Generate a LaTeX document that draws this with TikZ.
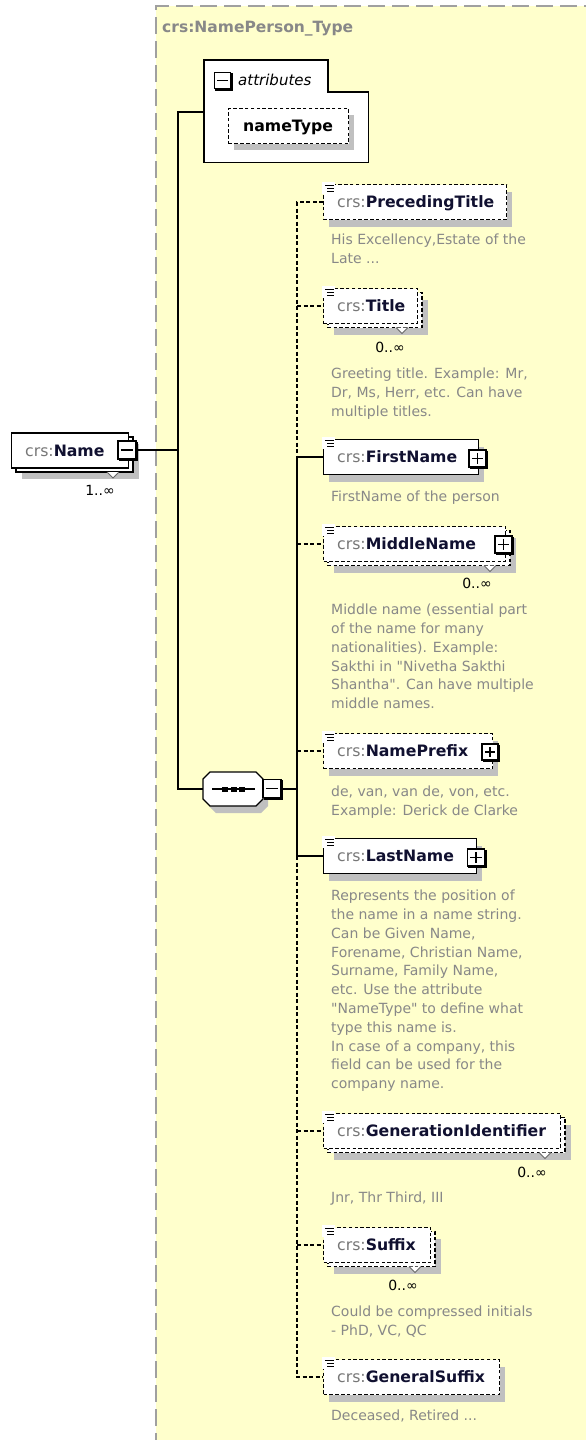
\documentclass[tikz,border=0pt]{standalone}
\usepackage{fontspec}
\setmainfont{DejaVu Sans}[Ligatures=TeXOff]
\usetikzlibrary{calc}
\definecolor{bgY}{HTML}{FFFFCC}
\definecolor{bordG}{HTML}{A0A0A0}
\definecolor{docG}{HTML}{888888}
\definecolor{preG}{HTML}{777777}
\definecolor{nameC}{HTML}{101030}
\definecolor{shadowG}{HTML}{C0C0C0}
\newcommand\crsname[1]{{\color{preG}crs:}{\bfseries\color{nameC}#1}}
% #1 node name, #2 left x, #3 centre y, #4 width, #5 line style, #6 stacked 0/1, #7 label
\newcommand\element[7]{%
  \ifnum#6=1
    \fill[shadowG] (#2+11,#3-17.5+11) rectangle ++(#4,35);
    \draw[elline,#5,fill=white] (#2+5,#3-17.5+4) rectangle ++(#4,35);
  \else
    \fill[shadowG] (#2+6,#3-17.5+7) rectangle ++(#4,35);
  \fi
  \node[elbox,#5,minimum width=#4pt,anchor=west] (#1) at (#2,#3) {};
  \node[eltext,anchor=west] (#1-t) at (#2+14,#3) {\crsname{#7}};
}
\newcommand\docicon[1]{%
  \fill[white] ($(#1.north west)+(-1.5,-1.5)$) rectangle ($(#1.north west)+(12,10)$);
  \draw[line width=1pt] ($(#1.north west)+(2,1.5)$) -- ++(9,0)
     ($(#1.north west)+(4,4.5)$) -- ++(7,0) ($(#1.north west)+(4,7.5)$) -- ++(7,0);
}
% #1 name, #2 cx, #3 cy, #4 size, #5 1 plus / 0 minus
\newcommand\pmbox[5]{%
  \node[pmsq,minimum size=#4pt] (#1) at (#2,#3) {};
  \draw[line width=1.8pt] ($(#1.north east)+(1,1.5)$) -- ($(#1.south east)+(1,1)$) -- ($(#1.south west)+(1.5,1)$);
  \draw[line width=1.3pt] ($(#1.west)+(3.5,0)$) -- ($(#1.east)+(-3.5,0)$);
  \ifnum#5=1 \draw[line width=1.3pt] ($(#1.north)+(0,3.5)$) -- ($(#1.south)+(0,-3.5)$);\fi
}
\newcommand\notch[2]{%
  \fill[white] (#1-6,#2) -- (#1,#2+6) -- (#1+6,#2) -- cycle;
  \draw[black!60,line width=0.8pt] (#1-6,#2) -- (#1,#2+6) -- (#1+6,#2);
}
\begin{document}
\begin{tikzpicture}[x=1pt,y=-1pt,
  elline/.style={draw=black,line width=1.3pt},
  opt/.style={dash pattern=on 3.5pt off 2.3pt},
  req/.style={},
  elbox/.style={elline,fill=white,inner sep=0pt,minimum height=35pt},
  eltext/.style={inner sep=0pt,font=\fontsize{15.7}{18}\selectfont,text height=13.5pt,text depth=2.5pt},
  doctext/.style={inner sep=0pt,align=left,text=docG,font=\fontsize{14}{18.8}\selectfont,anchor=north west},
  multtext/.style={inner sep=0pt,font=\fontsize{14}{16}\selectfont,text=black},
  conn/.style={line width=1.2pt},
  optconn/.style={conn,dash pattern=on 4pt off 2.5pt},
  pmsq/.style={draw=black,fill=white,line width=1.1pt,inner sep=0pt},
]
\useasboundingbox (0,0) rectangle (586,1440);
% type region
\fill[bgY] (156,6) rectangle (600,1450);
\draw[bordG,line width=1.5pt,dash pattern=on 17pt off 7pt] (156,1450) -- (156,6) -- (600,6);
\node[inner sep=0pt,anchor=west,text=docG,font=\fontsize{15.5}{18}\bfseries] (ttl) at (162,29) {crs:NamePerson\_Type};

% attributes box
\node[inner sep=0pt,minimum width=164pt,minimum height=102pt,anchor=north west] (attr) at (204,60) {};
\draw[elline,fill=white] (attr.north west) -- ++(124,0) -- ++(0,32) -- ($(attr.north east)+(0,32)$) -- (attr.south east) -- (attr.south west) -- cycle;
\pmbox{attrmin}{222.5}{80.5}{16}{0}
\node[inner sep=0pt,anchor=west,font=\fontsize{15}{18}\itshape] (attrtxt) at (238,80) {attributes};
\fill[shadowG] (234,115) rectangle ++(120,35);
\node[elbox,opt,minimum width=120pt,anchor=north west] (ntype) at (228,108) {};
\node[eltext,anchor=west,font=\fontsize{15.7}{18}\bfseries] (ntype-t) at (243,125.5) {nameType};

% root element
\element{nm}{11}{450.5}{117}{req}{1}{Name}
\pmbox{nmmin}{127}{450}{18}{0}
\notch{113}{472}
\node[multtext] (nm-m) at (100,490) {1..∞};

% sequence compositor
\fill[shadowG] (209,786) -- (216,779) -- (261,779) -- (268,786) -- (268,806) -- (261,813) -- (216,813) -- (209,806) -- cycle;
\node[inner sep=0pt,minimum width=60pt,minimum height=34pt,anchor=west] (seq) at (203,789) {};
\draw[elline,fill=white] (203,779) -- (210,772) -- (256,772) -- (263,779) -- (263,799) -- (256,806) -- (210,806) -- (203,799) -- cycle;
\draw[line width=1.3pt] (212,789) -- (255,789);
\fill (222,786.5) rectangle ++(6,5);
\fill (230.5,786.5) rectangle ++(6,5);
\fill (239,786.5) rectangle ++(6,5);
\pmbox{seqmin}{272}{788.5}{18}{0}

% trunk left
\coordinate (j1) at (178,112);
\coordinate (j2) at (178,450);
\coordinate (j3) at (178,789);
\draw[conn] (attr.west |- j1) -- (j1) -- (j3) -- (seq.west);
\draw[conn] (nmmin.east |- j2) -- (j2);

% children
\element{pt}{323}{202}{183}{opt}{0}{PrecedingTitle}
\docicon{pt}
\node[doctext] (pt-d) at (331,232.5) {\rule{0pt}{12pt}His Excellency,Estate of the\\Late ...};

\element{ti}{323}{306}{94}{opt}{1}{Title}
\docicon{ti}
\notch{402}{327.5}
\node[multtext] (ti-m) at (390,347) {0..∞};
\node[doctext] (ti-d) at (331,366.5) {\rule{0pt}{12pt}Greeting title. Example: Mr,\\Dr, Ms, Herr, etc. Can have\\multiple titles.};

\element{fn}{323}{457}{155}{req}{0}{FirstName}
\docicon{fn}
\pmbox{fnp}{477.5}{458.5}{17}{1}
\node[doctext] (fn-d) at (331,489.5) {\rule{0pt}{12pt}FirstName of the person};

\element{mn}{323}{544}{182}{opt}{1}{MiddleName}
\docicon{mn}
\pmbox{mnp}{503.5}{544.5}{17}{1}
\notch{490}{565.5}
\node[multtext] (mn-m) at (477,583) {0..∞};
\node[doctext] (mn-d) at (331,602.5) {\rule{0pt}{12pt}Middle name (essential part\\of the name for many\\nationalities). Example:\\Sakthi in "Nivetha Sakthi\\Shantha". Can have multiple\\middle names.};

\element{np}{323}{751}{169}{opt}{0}{NamePrefix}
\docicon{np}
\pmbox{npp}{490}{752}{16}{1}
\node[doctext] (np-d) at (331,784.5) {\rule{0pt}{12pt}de, van, van de, von, etc.\\Example: Derick de Clarke};

\element{ln}{323}{856}{153}{req}{0}{LastName}
\docicon{ln}
\pmbox{lnp}{476}{857.5}{17}{1}
\node[doctext] (ln-d) at (331,888.5) {\rule{0pt}{12pt}Represents the position of\\the name in a name string.\\Can be Given Name,\\Forename, Christian Name,\\Surname, Family Name,\\etc. Use the attribute\\"NameType" to define what\\type this name is.\\In case of a company, this\\field can be used for the\\company name.};

\element{gi}{323}{1131}{237}{opt}{1}{GenerationIdentifier}
\docicon{gi}
\notch{545}{1152.5}
\node[multtext] (gi-m) at (532,1172) {0..∞};
\node[doctext] (gi-d) at (331,1190.5) {\rule{0pt}{12pt}Jnr, Thr Third, III};

\element{sf}{323}{1245}{107}{opt}{1}{Suffix}
\docicon{sf}
\notch{415}{1266.5}
\node[multtext] (sf-m) at (403,1285) {0..∞};
\node[doctext] (sf-d) at (331,1304.5) {\rule{0pt}{12pt}Could be compressed initials\\- PhD, VC, QC};

\element{gs}{323}{1377}{176}{opt}{0}{GeneralSuffix}
\docicon{gs}
\node[doctext] (gs-d) at (331,1408.5) {\rule{0pt}{12pt}Deceased, Retired ...};

% trunk right
\coordinate (t1) at (297,202);
\coordinate (t2) at (297,306);
\coordinate (t3) at (297,457);
\coordinate (t4) at (297,544);
\coordinate (t5) at (297,751);
\coordinate (ts) at (297,789);
\coordinate (t6) at (297,856);
\coordinate (t7) at (297,1131);
\coordinate (t8) at (297,1245);
\coordinate (t9) at (297,1377);
\draw[conn] (seqmin.east |- ts) -- (ts);
\draw[optconn] (pt.west) -- (t1) -- (t3);
\draw[conn] (t3) -- (t6);
\draw[optconn] (t6) -- (t9) -- (gs.west);
\draw[optconn] (t2) -- (ti.west);
\draw[conn] (t3) -- (fn.west);
\draw[optconn] (t4) -- (mn.west);
\draw[optconn] (t5) -- (np.west);
\draw[conn] (t6) -- (ln.west);
\draw[optconn] (t7) -- (gi.west);
\draw[optconn] (t8) -- (sf.west);
\end{tikzpicture}
\end{document}
